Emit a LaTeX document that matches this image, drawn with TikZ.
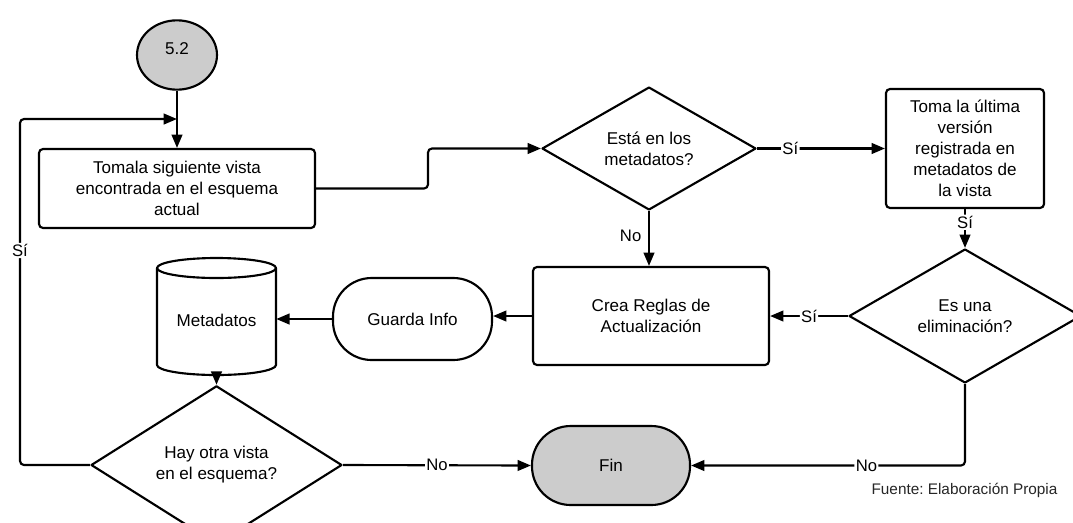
\documentclass[tikz,border=0pt]{standalone}
\usepackage{fontspec}
\setmainfont{Liberation Sans}
\frenchspacing
\usetikzlibrary{arrows.meta,shapes.geometric}
\definecolor{termgray}{HTML}{CCCCCC}
\begin{document}
\begin{tikzpicture}[x=0.75pt,y=-0.75pt,
  every node/.style={font=\fontsize{12.8}{15.75}\selectfont, align=center, inner sep=0pt},
  base/.style={draw=black, line width=1.6pt, line join=round},
  procbox/.style={base, rectangle, rounded corners=3pt},
  decision/.style={base, diamond},
  terminal/.style={base, rectangle, rounded corners=29pt},
  conn/.style={line width=1.6pt, line join=round, rounded corners=3pt,
               -{Triangle[length=10pt,width=8pt]}},
  lbl/.style={fill=white, inner sep=1pt, font=\fontsize{12.5}{14}\selectfont}
]
\useasboundingbox (0,0) rectangle (1073,522);
\clip (0,0) rectangle (1073,522);

% start connector
\node[base, ellipse, fill=termgray, minimum width=60pt, minimum height=52pt]
  (start) at (177,55) {\raisebox{10pt}{5.2}};

% process steps
\node[procbox, minimum width=207pt, minimum height=59.25pt] (next) at (177,188.5)
  {Tomala siguiente vista\\encontrada en el esquema\\actual};
\node[decision, minimum width=160.5pt, minimum height=86.25pt] (inmeta) at (649,148.5)
  {Está en los\\metadatos?};
\node[procbox, minimum width=118.5pt, minimum height=89.25pt] (last) at (965,148.5)
  {Toma la última\\versión\\registrada en\\metadatos de\\la vista};
\node[decision, minimum width=174pt, minimum height=100.5pt] (isdel) at (965,316)
  {Es una\\eliminación?};
\node[procbox, minimum width=177pt, minimum height=73.5pt] (rules) at (651,316)
  {Crea Reglas de\\Actualización};
\node[terminal, minimum width=119.25pt, minimum height=61.5pt] (save) at (412.5,319)
  {Guarda Info};

% metadata store (cylinder)
\node[minimum width=89.25pt, minimum height=82.5pt] (meta) at (216.5,320) {Metadatos};
\draw[base] (157,268) -- (157,365) arc[start angle=180, end angle=360, x radius=44.625pt, y radius=7.5pt] -- (276,268);
\draw[base] (216.5,268) ellipse[x radius=44.625pt, y radius=7.5pt];

\node[decision, minimum width=188.25pt, minimum height=88.5pt] (more) at (216.5,465)
  {Hay otra vista\\en el esquema?};
\node[terminal, fill=termgray, minimum width=118.5pt, minimum height=59.25pt] (fin) at (611,465.5)
  {Fin};

\node[font=\fontsize{11.5}{13}\selectfont, text=black!85] (src) at (964.5,490)
  {Fuente: Elaboración Propia};

% loop-back helpers
\coordinate (loopin) at (177,119);
\coordinate (loopcorner) at (20,119);
\coordinate (jog) at (428,148.5);

% connectors
\draw[conn] (start.south) -- (next.north);
\draw[conn] (more.west) -| node[lbl, pos=0.81] {Sí} (loopcorner) -- (loopin);
\draw[conn] (next.east) -| (jog) -- (inmeta.west);
\draw[conn] (inmeta.east) -- node[lbl, pos=0.26] {Sí} (last.west);
\draw[conn] (inmeta.south) -- node[left=5pt, pos=0.45, font=\fontsize{12.5}{14}\selectfont] {No} (rules.north -| inmeta.south);
\draw[conn] (last.south) -- node[lbl, pos=0.34] {Sí} (isdel.north);
\draw[conn] (isdel.west) -- node[lbl, pos=0.5] {Sí} (rules.east);
\draw[conn] (rules.west) -- (rules.west -| save.east);
\draw[conn] (save.west) -- (save.west -| meta.east);
\draw[conn] (meta.south) -- (more.north);
\draw[conn] (more.east) -- node[lbl, pos=0.5] {No} (fin.west);
\draw[conn] (isdel.south) |- node[lbl, pos=0.68] {No} (fin.east);
\end{tikzpicture}
\end{document}
